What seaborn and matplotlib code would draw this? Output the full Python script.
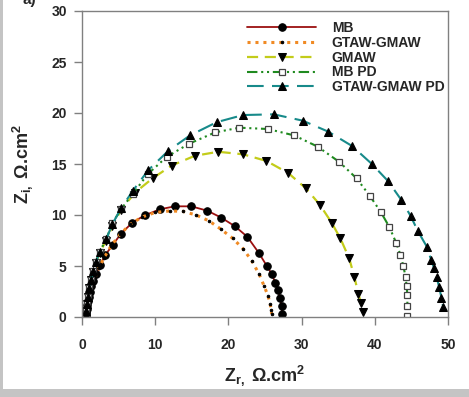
import matplotlib
matplotlib.use("Agg")
import matplotlib.pyplot as plt
from matplotlib.patches import Rectangle
import seaborn as sns
import pandas as pd

# ---------------- data ----------------
mb_x = [0.55, 0.6, 0.65, 0.7, 0.8, 0.9, 1.05, 1.25, 1.5, 1.9, 2.46, 3.2, 4.19, 5.33, 6.87, 8.57,
        10.66, 12.66, 14.93, 17.12, 19.03, 20.9, 22.58, 24.14, 25.23, 25.92, 26.4, 26.8, 27.05, 27.28, 27.32]
mb_y = [0.1, 0.4, 0.8, 1.2, 1.6, 2.0, 2.5, 3.0, 3.5, 4.2, 5.1, 6.1, 7.06, 8.17, 9.25, 9.97,
        10.56, 10.85, 10.85, 10.42, 9.74, 8.89, 7.87, 6.30, 5.03, 4.22, 3.36, 2.65, 1.83, 1.08, 0.29]

gg_x = [0.5, 0.6, 0.7, 0.8, 0.95, 1.15, 1.4, 1.8, 2.3, 3.0, 4.0, 5.2, 6.6, 8.2, 10.0, 12.0, 13.8,
        15.6, 17.4, 19.0, 20.6, 22.0, 23.2, 24.2, 24.9, 25.4, 25.7, 25.85, 25.9]
gg_y = [0.1, 0.5, 1.0, 1.5, 2.0, 2.6, 3.2, 3.9, 4.8, 5.8, 7.0, 8.1, 9.1, 9.8, 10.25, 10.4, 10.35,
        10.0, 9.4, 8.6, 7.7, 6.7, 5.5, 4.2, 3.0, 2.1, 1.3, 0.7, 0.3]

gm_x = [0.5, 0.6, 0.7, 0.85, 1.0, 1.2, 1.5, 1.9, 2.4, 3.3, 4.14, 5.33, 7.24, 9.65, 12.25, 15.4, 18.6,
        22.0, 25.2, 28.2, 30.6, 32.5, 34.1, 35.3, 36.5, 37.2, 37.75, 38.1, 38.35]
gm_y = [0.1, 0.6, 1.3, 2.0, 2.8, 3.6, 4.4, 5.3, 6.3, 7.5, 8.9, 10.5, 12.2, 13.6, 14.85, 15.8, 16.2,
        15.95, 15.3, 14.1, 12.6, 11.0, 9.25, 7.7, 5.75, 3.95, 2.3, 1.4, 0.5]

mbpd_x = [0.5, 0.6, 0.7, 0.85, 1.0, 1.2, 1.5, 1.9, 2.4, 3.3, 4.14, 5.37, 6.97, 8.97, 11.57, 14.66,
          18.2, 21.5, 25.4, 29.0, 32.2, 35.15, 37.5, 39.3, 40.85, 42.0, 42.9, 43.5, 43.9, 44.2, 44.35,
          44.45, 44.45, 44.45]
mbpd_y = [0.1, 0.6, 1.3, 2.0, 2.8, 3.6, 4.5, 5.4, 6.4, 7.6, 9.2, 10.6, 12.1, 14.0, 15.7, 17.0,
          18.1, 18.56, 18.43, 17.8, 16.7, 15.2, 13.6, 11.9, 10.26, 8.8, 7.3, 6.1, 5.0, 3.95, 3.04,
          2.16, 1.08, 0.1]

ggpd_x = [0.5, 0.6, 0.7, 0.85, 1.0, 1.2, 1.5, 1.9, 2.4, 3.3, 4.14, 5.37, 6.97, 9.06, 11.8, 14.75,
          18.4, 22.0, 26.2, 30.15, 33.65, 36.9, 39.6, 41.8, 43.6, 44.9, 45.9, 47.1, 47.7, 48.1,
          48.45, 48.8, 49.1, 49.35]
ggpd_y = [0.1, 0.6, 1.3, 2.0, 2.8, 3.6, 4.5, 5.4, 6.4, 7.6, 9.1, 10.7, 12.4, 14.4, 16.3, 17.8,
          19.1, 19.8, 19.87, 19.25, 18.17, 16.76, 15.0, 13.33, 11.5, 9.9, 8.4, 6.9, 5.6, 4.8,
          3.9, 2.9, 1.9, 0.95]

labels = ["MB", "GTAW-GMAW", "GMAW", "MB PD", "GTAW-GMAW PD"]
x_ticks = [0, 10, 20, 30, 40, 50]
y_ticks = [0, 5, 10, 15, 20, 25, 30]

# ---------------- style ----------------
sns.set_style("white")
plt.rcParams["font.family"] = ["Liberation Sans", "DejaVu Sans"]
plt.rcParams["mathtext.fontset"] = "custom"
plt.rcParams["mathtext.rm"] = "Liberation Sans:bold"
plt.rcParams["mathtext.it"] = "Liberation Sans:bold"
plt.rcParams["mathtext.bf"] = "Liberation Sans:bold"
plt.rcParams["mathtext.sf"] = "Liberation Sans:bold"
plt.rcParams["mathtext.default"] = "bf"

fig = plt.figure(figsize=(4.69, 3.97), dpi=100)
fig.patch.set_facecolor("white")
gray = "#c4c4c4"
# gray frame strips (left and bottom)
fig.patches.append(Rectangle((0, 0), 3 / 469, 1, transform=fig.transFigure,
                             facecolor=gray, edgecolor="none", zorder=-10))
fig.patches.append(Rectangle((0, 0), 1, 8 / 397, transform=fig.transFigure,
                             facecolor=gray, edgecolor="none", zorder=-10))

ax = fig.add_axes([82 / 469, 1 - 317 / 397, (448 - 82) / 469, (317 - 11) / 397])
ax.set_facecolor("none")

series = [
    (mb_x, mb_y, dict(color="#9b1010", linestyle="-", lw=1.3, marker="o", ms=5.4,
                      mfc="black", mec="black")),
    (gg_x, gg_y, dict(color="#f08a24", linestyle=(0, (1, 1.6)), lw=2.2, marker="o", ms=1.8,
                      mfc="black", mec="black")),
    (gm_x, gm_y, dict(color="#c3cc1a", linestyle=(0, (5, 3)), lw=1.6, marker="v", ms=5.4,
                      mfc="black", mec="black")),
    (mbpd_x, mbpd_y, dict(color="#1f8a1f", linestyle=(0, (5, 1.8, 1, 1.8, 1, 1.8)), lw=1.5,
                          marker="s", ms=5, mfc="white", mec="#444444", mew=0.9)),
    (ggpd_x, ggpd_y, dict(color="#178a8a", linestyle=(0, (8, 4)), lw=1.5, marker="^", ms=5.4,
                          mfc="black", mec="black")),
]
for (xs, ys, kw), lab in zip(series, labels):
    df = pd.DataFrame({"x": xs, "y": ys})
    sns.lineplot(data=df, x="x", y="y", sort=False, estimator=None, ax=ax, label=lab, **kw)

ax.set_xlim(0, 50)
ax.set_ylim(0, 30)
ax.set_xticks(x_ticks)
ax.set_yticks(y_ticks)
ax.set_xticklabels([str(t) for t in x_ticks])
ax.set_yticklabels([str(t) for t in y_ticks])
for sp in ax.spines.values():
    sp.set_visible(True)
    sp.set_color("#808080")
    sp.set_linewidth(1.0)
ax.tick_params(axis="both", direction="out", length=6, width=1, color="#808080",
               labelsize=10, bottom=True, left=True)
ax.tick_params(axis="x", pad=9)
ax.tick_params(axis="y", pad=5)
for t in ax.get_xticklabels() + ax.get_yticklabels():
    t.set_fontweight("bold")
ax.set_xlabel(r"Z$_{\mathbf{r,}}$ Ω.cm$^{\mathbf{2}}$", fontsize=13, fontweight="bold", labelpad=8)
ax.set_ylabel(r"Z$_{\mathbf{i,}}$ Ω.cm$^{\mathbf{2}}$", fontsize=13, fontweight="bold", labelpad=12)

leg = ax.legend(loc="upper left", bbox_to_anchor=((247 - 82) / 366, 1 - (21 - 11) / 306),
                frameon=False, handlelength=5.0, handletextpad=1.1, labelspacing=0.06,
                borderpad=0, borderaxespad=0, numpoints=1, prop={"weight": "bold", "size": 10})

fig.text(22 / 469, 1.0, "a)", fontsize=11, fontweight="bold", va="center", ha="left")

fig.savefig("out.png", dpi=100, facecolor=fig.get_facecolor())
